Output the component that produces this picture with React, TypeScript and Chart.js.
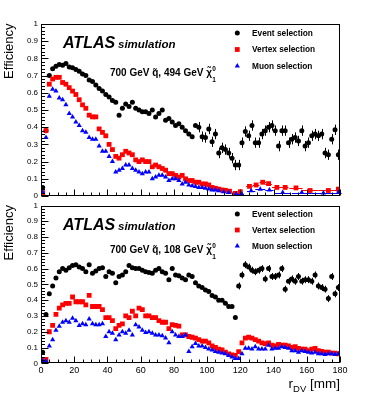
import React, { useEffect, useRef } from "react";
import { Chart, registerables } from "chart.js";

Chart.register(...registerables);

const FONT = '"Liberation Sans", Arial, Helvetica, sans-serif';

// ---------- data ----------
const squarkMass = "700";
const topNeutralinoMass = "494";
const bottomNeutralinoMass = "108";

const rDV = [
  1, 3, 5, 7, 9, 11, 13, 15, 17, 19, 21, 23, 25, 27, 29, 31, 33, 35, 37, 39,
  41, 43, 45, 47, 49, 51, 53, 55, 57, 59, 61, 63, 65, 67, 69, 71, 73, 75, 77, 79,
  81, 83, 85, 87, 89, 91, 93, 95, 97, 99, 101, 103, 105, 107, 109, 111, 113, 115, 117, 119,
  121, 123, 125, 127, 129, 131, 133, 135, 137, 139, 141, 143, 145, 147, 149, 151, 153, 155, 157, 159,
  161, 163, 165, 167, 169, 171, 173, 175, 177, 179,
];

// Top panel: 700 GeV squark, 494 GeV neutralino
const topEvent = [
  0.05, 0.38, 0.70, 0.74, 0.755, 0.765, 0.76, 0.77, 0.75, 0.745,
  0.735, 0.725, 0.71, 0.70, 0.675, 0.665, 0.645, 0.625, 0.61, 0.59,
  0.575, 0.555, 0.545, 0.47, 0.51, 0.535, 0.52, 0.545, 0.51, 0.50,
  0.49, 0.49, 0.48, 0.50, 0.46, 0.48, 0.50, 0.44, 0.45, 0.43,
  0.41, 0.42, 0.40, 0.38, 0.36, 0.345, 0.41, 0.40, 0.345, 0.34,
  0.39, 0.315, 0.36, 0.25, 0.28, 0.27, 0.25, 0.22, 0.18, 0.18,
  0.31, 0.375, 0.35, 0.41, 0.31, 0.31, 0.36, 0.38, 0.40, 0.41,
  0.38, 0.29, 0.38, 0.38, 0.31, 0.33, 0.34, 0.32, 0.38, 0.29,
  0.31, 0.35, 0.36, 0.35, 0.36, 0.25, 0.24, 0.33, 0.385, 0.24,
];

const topFineR = rDV.slice(0, 50);
const topVertexFine = [
  0.02, 0.38, 0.65, 0.68, 0.69, 0.69, 0.66, 0.65, 0.63, 0.61,
  0.59, 0.56, 0.53, 0.51, 0.47, 0.46, 0.46, 0.39, 0.37, 0.35,
  0.30, 0.27, 0.23, 0.22, 0.24, 0.26, 0.25, 0.24, 0.21, 0.20,
  0.21, 0.20, 0.20, 0.17, 0.18, 0.17, 0.16, 0.15, 0.13, 0.13,
  0.12, 0.11, 0.12, 0.10, 0.09, 0.09, 0.08, 0.08, 0.07, 0.07,
];
const topMuonFine = [
  0.02, 0.34, 0.58, 0.62, 0.61, 0.57, 0.56, 0.53, 0.48, 0.46,
  0.43, 0.41, 0.38, 0.37, 0.34, 0.33, 0.33, 0.29, 0.26, 0.26,
  0.23, 0.20, 0.14, 0.15, 0.16, 0.18, 0.18, 0.16, 0.15, 0.14,
  0.13, 0.14, 0.14, 0.10, 0.11, 0.12, 0.12, 0.11, 0.09, 0.10,
  0.10, 0.09, 0.07, 0.08, 0.064, 0.06, 0.055, 0.05, 0.05, 0.045,
];
// wider bins at large radius
const topVertexWideR = [101, 103, 105, 107, 109, 111, 113.5, 117, 120, 125.5, 129.5, 133.5, 137, 142, 147, 153.5, 162, 173, 179];
const topVertexWideHalf = [1, 1, 1, 1, 1, 1, 1.5, 2, 1, 2, 2, 2, 2, 3, 2, 4, 5, 6, 1];
const topVertexWide = [0.064, 0.05, 0.045, 0.04, 0.035, 0.033, 0.028, 0.015, 0.025, 0.056, 0.064, 0.08, 0.072, 0.05, 0.05, 0.047, 0.032, 0.032, 0.04];
const topMuonWideR = [101, 103, 105, 107, 110, 113, 117.5, 121, 126.5, 132, 137.5, 145.5, 157, 170, 179];
const topMuonWideHalf = [1, 1, 1, 1, 1.5, 1.5, 2.5, 1, 2.5, 3, 2.5, 5, 6, 7, 2];
const topMuonWide = [0.04, 0.035, 0.035, 0.03, 0.025, 0.02, 0.012, 0.01, 0.031, 0.039, 0.035, 0.02, 0.02, 0.018, 0.02];

// Bottom panel: 700 GeV squark, 108 GeV neutralino
const bottomEvent = [
  0.07, 0.31, 0.44, 0.49, 0.54, 0.58, 0.60, 0.59, 0.605, 0.62,
  0.625, 0.61, 0.60, 0.58, 0.625, 0.57, 0.585, 0.60, 0.605, 0.55,
  0.58, 0.57, 0.51, 0.55, 0.56, 0.58, 0.62, 0.605, 0.60, 0.60,
  0.59, 0.58, 0.575, 0.57, 0.59, 0.60, 0.58, 0.57, 0.53, 0.60,
  0.56, 0.555, 0.54, 0.53, 0.56, 0.55, 0.51, 0.49, 0.48, 0.465,
  0.455, 0.43, 0.42, 0.40, 0.40, 0.38, 0.36, 0.36, 0.29, 0.49,
  0.56, 0.625, 0.61, 0.59, 0.58, 0.59, 0.60, 0.535, 0.60, 0.55,
  0.55, 0.56, 0.60, 0.47, 0.52, 0.535, 0.52, 0.55, 0.52, 0.53,
  0.53, 0.52, 0.56, 0.49, 0.48, 0.47, 0.41, 0.55, 0.44, 0.48,
];
const bottomVertex = [
  0.02, 0.025, 0.20, 0.24, 0.31, 0.35, 0.37, 0.38, 0.38, 0.42,
  0.39, 0.39, 0.39, 0.37, 0.43, 0.36, 0.36, 0.36, 0.34, 0.29,
  0.29, 0.27, 0.22, 0.24, 0.25, 0.30, 0.29, 0.33, 0.30, 0.35,
  0.34, 0.30, 0.30, 0.29, 0.29, 0.27, 0.26, 0.26, 0.22, 0.245,
  0.24, 0.235, 0.18, 0.18, 0.17, 0.165, 0.16, 0.15, 0.14, 0.14,
  0.13, 0.11, 0.10, 0.09, 0.085, 0.07, 0.06, 0.053, 0.05, 0.074,
  0.13, 0.16, 0.165, 0.16, 0.15, 0.14, 0.13, 0.125, 0.13, 0.115,
  0.11, 0.12, 0.115, 0.115, 0.11, 0.10, 0.105, 0.095, 0.09, 0.09,
  0.08, 0.09, 0.095, 0.08, 0.075, 0.07, 0.07, 0.065, 0.065, 0.06,
];
const bottomMuon = [
  0.015, 0.015, 0.11, 0.15, 0.21, 0.235, 0.26, 0.27, 0.26, 0.285,
  0.27, 0.24, 0.25, 0.245, 0.28, 0.25, 0.245, 0.245, 0.25, 0.17,
  0.20, 0.19, 0.15, 0.18, 0.20, 0.19, 0.21, 0.18, 0.245, 0.23,
  0.21, 0.195, 0.20, 0.19, 0.18, 0.18, 0.175, 0.16, 0.13, 0.20,
  0.18, 0.17, 0.17, 0.18, 0.075, 0.105, 0.125, 0.11, 0.11, 0.10,
  0.09, 0.085, 0.075, 0.07, 0.065, 0.06, 0.05, 0.04, 0.03, 0.03,
  0.06, 0.095, 0.095, 0.09, 0.105, 0.09, 0.09, 0.09, 0.115, 0.09,
  0.095, 0.095, 0.105, 0.10, 0.095, 0.08, 0.08, 0.07, 0.08, 0.075,
  0.07, 0.065, 0.07, 0.06, 0.06, 0.055, 0.06, 0.06, 0.055, 0.06,
];

// statistical uncertainty sizes (visible for the event selection at large r)
const topEventErrFrom = 95;
const topEventErr = 0.03;
const bottomEventErrFrom = 118;
const bottomEventErr = 0.022;

const legendLabels = ["Event selection", "Vertex selection", "Muon selection"];
const yTickValues = [0, 0.1, 0.2, 0.3, 0.4, 0.5, 0.6, 0.7, 0.8, 0.9, 1];

// ---------- helpers ----------
type Pt = { x: number; y: number; xe?: number; ye?: number };

function toPts(xs: number[], ys: number[], xe?: number[], errFrom?: number, err?: number): Pt[] {
  return xs.map((x, i) => {
    const p: Pt = { x, y: ys[i] };
    if (xe) p.xe = xe[i];
    if (errFrom !== undefined && err !== undefined && x >= errFrom) p.ye = err;
    return p;
  });
}

interface PanelSpec {
  top: number;
  height: number;
  padTop: number;
  padBottom: number;
  xAxisHeight: number;
  showXLabels: boolean;
  showXTitle: boolean;
  mass: string;
  atlasBaseline: number;
  processBaseline: number;
  legendYs: number[];
  event: Pt[];
  vertex: Pt[];
  muon: Pt[];
}

const topSpec: PanelSpec = {
  top: 0,
  height: 200,
  padTop: 24,
  padBottom: 4,
  xAxisHeight: 0,
  showXLabels: false,
  showXTitle: false,
  mass: topNeutralinoMass,
  atlasBaseline: 48,
  processBaseline: 76,
  legendYs: [33, 49.5, 66],
  event: toPts(rDV, topEvent, undefined, topEventErrFrom, topEventErr),
  vertex: [
    ...toPts(topFineR, topVertexFine),
    ...toPts(topVertexWideR, topVertexWide, topVertexWideHalf),
  ],
  muon: [
    ...toPts(topFineR, topMuonFine),
    ...toPts(topMuonWideR, topMuonWide, topMuonWideHalf),
  ],
};

const bottomSpec: PanelSpec = {
  top: 200,
  height: 198,
  padTop: 5.5,
  padBottom: 0,
  xAxisHeight: 34.7,
  showXLabels: true,
  showXTitle: true,
  mass: bottomNeutralinoMass,
  atlasBaseline: 30,
  processBaseline: 53,
  legendYs: [14, 30, 46],
  event: toPts(rDV, bottomEvent, undefined, bottomEventErrFrom, bottomEventErr),
  vertex: toPts(rDV, bottomVertex),
  muon: toPts(rDV, bottomMuon),
};

function drawMarker(ctx: CanvasRenderingContext2D, style: string, x: number, y: number, color: string) {
  ctx.fillStyle = color;
  ctx.beginPath();
  if (style === "circle") {
    ctx.arc(x, y, 2.5, 0, Math.PI * 2);
  } else if (style === "rect") {
    const h = 2.4;
    ctx.rect(x - h, y - h, 2 * h, 2 * h);
  } else {
    const r = 3.0;
    ctx.moveTo(x, y - r);
    ctx.lineTo(x + r * 0.866, y + r * 0.5);
    ctx.lineTo(x - r * 0.866, y + r * 0.5);
    ctx.closePath();
  }
  ctx.fill();
}

function makeDecor(spec: PanelSpec) {
  return {
    id: "decor",
    beforeDatasetsDraw(chart: any) {
      const ctx: CanvasRenderingContext2D = chart.ctx;
      const xs = chart.scales.x;
      const ys = chart.scales.y;
      ctx.save();
      ctx.lineWidth = 1;
      chart.data.datasets.forEach((ds: any) => {
        ctx.strokeStyle = ds.borderColor;
        (ds.data as Pt[]).forEach((p) => {
          const px = Math.round(xs.getPixelForValue(p.x)) + 0.5;
          const py = Math.round(ys.getPixelForValue(p.y)) + 0.5;
          ctx.beginPath();
          if (p.ye) {
            ctx.moveTo(px, ys.getPixelForValue(p.y - p.ye));
            ctx.lineTo(px, ys.getPixelForValue(p.y + p.ye));
          }
          if (p.xe) {
            ctx.moveTo(xs.getPixelForValue(p.x - p.xe), py);
            ctx.lineTo(xs.getPixelForValue(p.x + p.xe), py);
          }
          ctx.stroke();
        });
      });
      ctx.restore();
    },
    afterDraw(chart: any) {
      const ctx: CanvasRenderingContext2D = chart.ctx;
      const a = chart.chartArea;
      const xs = chart.scales.x;
      const ys = chart.scales.y;
      ctx.save();
      // frame
      ctx.strokeStyle = "#000";
      ctx.lineWidth = 1;
      const L = Math.round(a.left) + 0.5;
      const T = Math.round(a.top) + 0.5;
      const R = Math.round(a.right) - 0.5;
      const B = Math.round(a.bottom) - 0.5;
      ctx.strokeRect(L, T, R - L, B - T);
      // y ticks (inward): major every 0.1, minor every 0.02
      ctx.beginPath();
      for (let k = 0; k <= 50; k++) {
        const py = Math.round(ys.getPixelForValue(k / 50)) + 0.5;
        const len = k % 5 === 0 ? 7 : 3.5;
        ctx.moveTo(L, py);
        ctx.lineTo(L + len, py);
      }
      // x ticks (inward): major every 20, minor every 5
      for (let k = 0; k <= 36; k++) {
        const px = Math.round(xs.getPixelForValue(k * 5)) + 0.5;
        const len = k % 4 === 0 ? 6 : 3;
        ctx.moveTo(px, B);
        ctx.lineTo(px, B - len);
      }
      ctx.stroke();

      // legend
      const styles = ["circle", "rect", "triangle"];
      const colors = ["#000000", "#ff0000", "#0000ff"];
      ctx.textAlign = "left";
      ctx.textBaseline = "middle";
      ctx.font = `bold 8.3px ${FONT}`;
      legendLabels.forEach((lab, i) => {
        const y = spec.legendYs[i];
        drawMarker(ctx, styles[i], 237.3, y, colors[i]);
        ctx.fillStyle = "#000";
        ctx.fillText(lab, 252, y + 0.5);
      });

      // ATLAS simulation
      ctx.textBaseline = "alphabetic";
      ctx.fillStyle = "#000";
      ctx.font = `italic bold 16px ${FONT}`;
      ctx.fillText("ATLAS", 63, spec.atlasBaseline);
      ctx.font = `italic bold 11.5px ${FONT}`;
      ctx.fillText("simulation", 118, spec.atlasBaseline);

      // process label
      ctx.font = `bold 10px ${FONT}`;
      const main = `${squarkMass} GeV q\u0303, ${spec.mass} GeV \u03C7\u0303`;
      ctx.fillText(main, 110, spec.processBaseline);
      const w = ctx.measureText(main).width;
      ctx.font = `bold 6.5px ${FONT}`;
      ctx.fillText("0", 110 + w + 0.3, spec.processBaseline - 5.2);
      ctx.fillText("1", 110 + w + 0.3, spec.processBaseline + 5.5);

      // y title
      ctx.save();
      ctx.translate(12.6, a.top - 0.5);
      ctx.rotate(-Math.PI / 2);
      ctx.textAlign = "right";
      ctx.font = `13px ${FONT}`;
      ctx.fillText("Efficiency", 0, 0);
      ctx.restore();

      // x title
      if (spec.showXTitle) {
        const base = 188;
        ctx.font = `13.5px ${FONT}`;
        const w1 = ctx.measureText("r").width;
        const w3 = ctx.measureText(" [mm]").width;
        ctx.font = `9.5px ${FONT}`;
        const w2 = ctx.measureText("DV").width;
        let x0 = 340 - (w1 + w2 + w3);
        ctx.font = `13.5px ${FONT}`;
        ctx.fillText("r", x0, base);
        ctx.font = `9.5px ${FONT}`;
        ctx.fillText("DV", x0 + w1, base + 3.5);
        ctx.font = `13.5px ${FONT}`;
        ctx.fillText(" [mm]", x0 + w1 + w2, base);
      }
      ctx.restore();
    },
  };
}

function buildConfig(spec: PanelSpec): any {
  return {
    type: "scatter",
    data: {
      datasets: [
        {
          label: legendLabels[0],
          data: spec.event,
          pointStyle: "circle",
          pointRadius: 2.5,
          backgroundColor: "#000000",
          borderColor: "#000000",
          borderWidth: 0,
          order: 3,
        },
        {
          label: legendLabels[1],
          data: spec.vertex,
          pointStyle: "rect",
          pointRadius: 3.4,
          backgroundColor: "#ff0000",
          borderColor: "#ff0000",
          borderWidth: 0,
          order: 2,
        },
        {
          label: legendLabels[2],
          data: spec.muon,
          pointStyle: "triangle",
          pointRadius: 3.0,
          backgroundColor: "#0000ff",
          borderColor: "#0000ff",
          borderWidth: 0,
          order: 1,
        },
      ],
    },
    options: {
      animation: false,
      responsive: false,
      maintainAspectRatio: false,
      devicePixelRatio: 1,
      events: [],
      layout: { padding: { left: 0, right: 42, top: spec.padTop, bottom: spec.padBottom } },
      plugins: { legend: { display: false }, tooltip: { enabled: false }, title: { display: false } },
      scales: {
        x: {
          type: "linear",
          min: 0,
          max: 180,
          grid: { display: false, drawTicks: false },
          border: { display: false },
          ticks: {
            display: spec.showXLabels,
            stepSize: 20,
            color: "#000",
            font: { family: FONT, size: 9 },
            padding: 2,
            maxRotation: 0,
            autoSkip: false,
          },
          afterFit: (s: any) => {
            s.height = spec.xAxisHeight;
            s.paddingLeft = 0;
            s.paddingRight = 0;
          },
        },
        y: {
          min: 0,
          max: 1,
          grid: { display: false, drawTicks: false },
          border: { display: false },
          afterBuildTicks: (s: any) => {
            s.ticks = yTickValues.map((v) => ({ value: v }));
          },
          ticks: {
            color: "#000",
            font: { family: FONT, size: 8 },
            padding: 3,
            callback: (v: number) => {
              const n = Math.round(v * 10) / 10;
              if (n === 0) return "0";
              if (n === 1) return "1";
              return n.toFixed(1);
            },
          },
          afterFit: (s: any) => {
            s.width = 41;
            s.paddingTop = 0;
            s.paddingBottom = 0;
          },
        },
      },
    },
    plugins: [makeDecor(spec)],
  };
}

function Panel({ spec }: { spec: PanelSpec }) {
  const ref = useRef<HTMLCanvasElement>(null);
  useEffect(() => {
    if (!ref.current) return;
    const chart = new Chart(ref.current, buildConfig(spec));
    return () => chart.destroy();
  }, [spec]);
  return (
    <canvas
      ref={ref}
      width={382}
      height={spec.height}
      style={{ position: "absolute", left: 0, top: spec.top, width: 382, height: spec.height, display: "block" }}
    />
  );
}

export default function App() {
  return (
    <div
      style={{
        position: "absolute",
        left: 0,
        top: 0,
        width: 382,
        height: 398,
        background: "#ffffff",
        overflow: "hidden",
      }}
    >
      <Panel spec={topSpec} />
      <Panel spec={bottomSpec} />
    </div>
  );
}
